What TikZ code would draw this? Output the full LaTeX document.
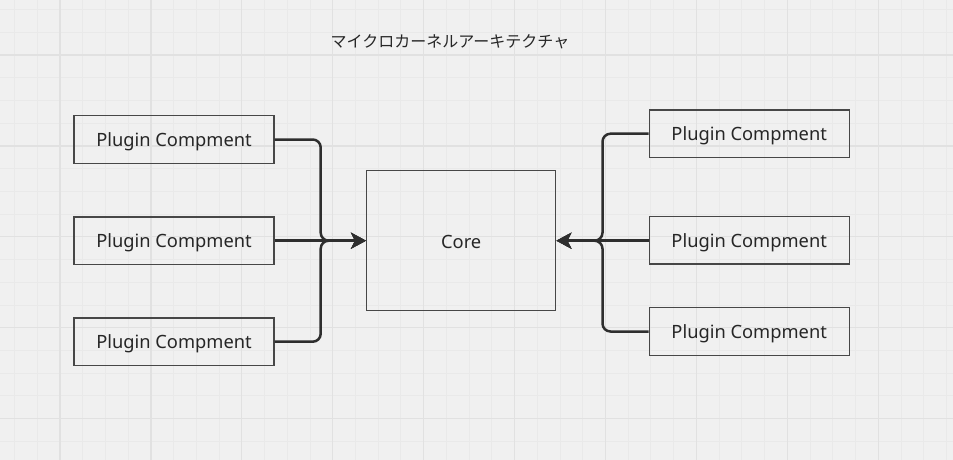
\documentclass[tikz,border=0pt]{standalone}
\usepackage{fontspec}
\setmainfont{Noto Sans}
\newfontfamily\cjk{Noto Sans CJK JP}
\usetikzlibrary{arrows.meta}
\definecolor{bgc}{HTML}{F0F0F0}
\definecolor{minorc}{HTML}{E9E9E9}
\definecolor{majorc}{HTML}{E1E1E1}
\definecolor{boxc}{HTML}{474747}
\definecolor{linec}{HTML}{2E2E2E}
\definecolor{txtc}{HTML}{262626}
\tikzset{
  plug/.style={draw=boxc, line width=1.4pt, minimum width=200pt, minimum height=47.5pt, inner sep=0pt,
    font=\fontsize{18.3}{20}\selectfont, text=txtc, text height=16.5pt, text depth=2pt},
  corebox/.style={draw=boxc, line width=1.4pt, minimum width=189pt, minimum height=140pt, inner sep=0pt,
    font=\fontsize{18.3}{20}\selectfont, text=txtc, text height=17pt, text depth=2pt},
  conn/.style={draw=linec, line width=2.5pt, rounded corners=8pt, -{Stealth[length=15pt,width=16pt,inset=4pt]}},
}
\begin{document}
\begin{tikzpicture}[x=1pt,y=-1pt]
\useasboundingbox (0,0) rectangle (953,460);
\fill[bgc] (0,0) rectangle (953,460);
% grid
\foreach \i in {0,...,43} \draw[minorc, line width=1pt] ({-8.19+\i*22.73},0) -- ({-8.19+\i*22.73},460);
\foreach \i in {0,...,21} \draw[minorc, line width=1pt] (0,{-13.19+\i*22.73}) -- (953,{-13.19+\i*22.73});
\foreach \i in {0,...,9} \draw[majorc, line width=1.2pt] ({60+\i*90.92},0) -- ({60+\i*90.92},460);
\foreach \i in {0,...,4} \draw[majorc, line width=1.2pt] (0,{55+\i*90.92}) -- (953,{55+\i*90.92});
% title
\node[font=\cjk\fontsize{16}{18}\selectfont, text=txtc] (title) at (450,42) {マイクロカーネルアーキテクチャ};
% nodes
\node[corebox] (core) at (461.2,240.7) {Core};
\node[plug] (l1) at (174,139.5) {Plugin Compment};
\node[plug] (l2) at (174,240.7) {Plugin Compment};
\node[plug] (l3) at (174,341.7) {Plugin Compment};
\node[plug] (r1) at (749.2,133.7) {Plugin Compment};
\node[plug] (r2) at (749.2,240.2) {Plugin Compment};
\node[plug] (r3) at (749.2,331.5) {Plugin Compment};
\coordinate (jl) at (320.7,240.7);
\coordinate (jr) at (602.5,240.7);
% connectors
\draw[conn] (l1.east) -| (jl) -- (core.west);
\draw[conn] (l2.east) -- (core.west);
\draw[conn] (l3.east) -| (jl) -- (core.west);
\draw[conn] (r1.west) -| (jr) -- (core.east);
\draw[conn] (r2.west |- core.east) -- (core.east);
\draw[conn] (r3.west) -| (jr) -- (core.east);
\end{tikzpicture}
\end{document}
